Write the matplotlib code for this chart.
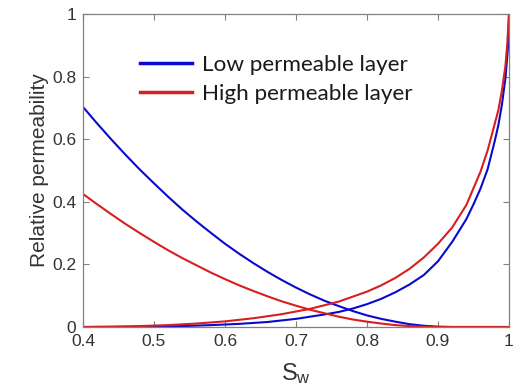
import matplotlib
matplotlib.use("Agg")
import matplotlib.pyplot as plt
from matplotlib.lines import Line2D

# Low permeable layer - oil relative permeability
sw_o_low = [0.40, 0.42, 0.44, 0.46, 0.48, 0.50, 0.52, 0.54, 0.56, 0.58, 0.60, 0.62, 0.64,
            0.66, 0.68, 0.70, 0.72, 0.74, 0.76, 0.78, 0.80, 0.82, 0.84, 0.86, 0.88, 0.90,
            0.92, 1.0]
kro_low = [0.703, 0.650, 0.599, 0.550, 0.503, 0.459, 0.416, 0.375, 0.337, 0.301, 0.266, 0.234,
           0.204, 0.176, 0.150, 0.126, 0.104, 0.084, 0.067, 0.051, 0.037, 0.026, 0.017, 0.009,
           0.004, 0.001, 0.0, 0.0]

# High permeable layer - oil relative permeability
sw_o_high = [0.40, 0.42, 0.44, 0.46, 0.48, 0.50, 0.52, 0.54, 0.56, 0.58, 0.60, 0.62, 0.64,
             0.66, 0.68, 0.70, 0.72, 0.74, 0.76, 0.78, 0.80, 0.82, 0.84, 0.86, 0.88, 0.90, 1.0]
kro_high = [0.425, 0.392, 0.360, 0.329, 0.300, 0.272, 0.245, 0.220, 0.197, 0.174, 0.153, 0.133,
            0.115, 0.098, 0.082, 0.068, 0.055, 0.044, 0.033, 0.024, 0.017, 0.011, 0.006, 0.003,
            0.001, 0.0, 0.0]

# High permeable layer - water relative permeability
sw_w_high = [0.40, 0.44, 0.48, 0.52, 0.56, 0.60, 0.64, 0.68, 0.72, 0.76, 0.80, 0.82, 0.84,
             0.86, 0.88, 0.90, 0.92, 0.94, 0.96, 0.97, 0.98, 0.985, 0.99, 0.995, 0.9976, 1.0]
krw_high = [0.0, 0.001, 0.003, 0.006, 0.011, 0.018, 0.028, 0.041, 0.058, 0.081, 0.113, 0.133,
            0.157, 0.186, 0.222, 0.266, 0.318, 0.390, 0.497, 0.565, 0.650, 0.693, 0.755, 0.835,
            0.906, 1.0]

# Low permeable layer - water relative permeability
sw_w_low = [0.40, 0.46, 0.50, 0.54, 0.58, 0.62, 0.66, 0.70, 0.74, 0.76, 0.78, 0.80, 0.82,
            0.84, 0.86, 0.88, 0.90, 0.92, 0.94, 0.95, 0.96, 0.97, 0.98, 0.985, 0.99, 0.995,
            0.999, 1.0]
krw_low = [0.0, 0.0005, 0.001, 0.003, 0.006, 0.010, 0.016, 0.026, 0.040, 0.048, 0.059, 0.073,
           0.090, 0.111, 0.136, 0.166, 0.210, 0.272, 0.345, 0.392, 0.443, 0.505, 0.595, 0.645,
           0.710, 0.795, 0.906, 1.0]

labels = ["Low permeable layer", "High permeable layer"]
xticks = [0.4, 0.5, 0.6, 0.7, 0.8, 0.9, 1.0]
xticklabels = ["0.4", "0.5", "0.6", "0.7", "0.8", "0.9", "1"]
yticks = [0, 0.2, 0.4, 0.6, 0.8, 1.0]
yticklabels = ["0", "0.2", "0.4", "0.6", "0.8", "1"]

BLUE = "#0a0acd"
RED = "#d81e1e"
TXT = "#333333"
SPINE = "#808080"

fig = plt.figure(figsize=(5.26, 3.92), dpi=100)
ax = fig.add_axes([83/526, 65/392, 426/526, 313/392])

ax.plot(sw_o_low, kro_low, color=BLUE, lw=1.5)
ax.plot(sw_w_low, krw_low, color=BLUE, lw=1.5)
ax.plot(sw_o_high, kro_high, color=RED, lw=1.5)
ax.plot(sw_w_high, krw_high, color=RED, lw=1.5)

ax.set_xlim(0.4, 1.0)
ax.set_ylim(0, 1)
ax.set_xticks(xticks)
ax.set_xticklabels(xticklabels)
ax.set_yticks(yticks)
ax.set_yticklabels(yticklabels)

for s in ax.spines.values():
    s.set_color(SPINE)
    s.set_linewidth(0.9)
ax.tick_params(direction="in", top=True, right=True, length=4, width=0.8,
               color=SPINE, labelcolor=TXT, labelsize=12.5, pad=5)
for lab in ax.get_xticklabels() + ax.get_yticklabels():
    lab.set_family("Liberation Sans")

ax.set_ylabel("Relative permeability", fontsize=15, color=TXT,
              family="Liberation Sans", labelpad=2)
ax.set_xlabel(r"$\mathregular{S_w}$", fontsize=17, color=TXT,
              family="Liberation Sans", labelpad=9)

handles = [Line2D([], [], color=BLUE, lw=2.5), Line2D([], [], color=RED, lw=2.5)]
leg = ax.legend(handles, labels, loc="upper left", bbox_to_anchor=(0.134, 0.869),
                frameon=False, borderpad=0, borderaxespad=0,
                handlelength=2.31, handletextpad=0.44,
                labelspacing=0.38, prop={"family": "Lato", "size": 16.2})
for t in leg.get_texts():
    t.set_color("#1a1a1a")

fig.savefig("out.png", dpi=100)
